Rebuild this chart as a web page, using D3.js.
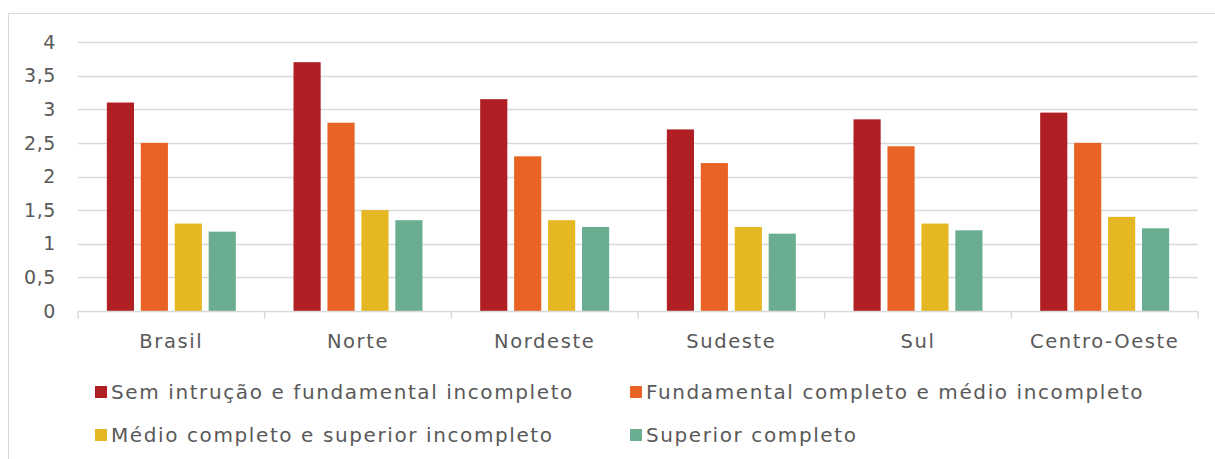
<!DOCTYPE html>
<html>
<head>
<meta charset="utf-8">
<script src="https://cdn.jsdelivr.net/npm/d3@7"></script>
<style>
  body { margin: 0; background: #fff; }
  text { font-family: "Century Gothic", "DejaVu Sans", sans-serif; fill: #595959; }
</style>
</head>
<body>
<div id="chart"></div>
<script>
// Data
const regions = ["Brasil", "Norte", "Nordeste", "Sudeste", "Sul", "Centro-Oeste"];
const seriesNames = [
  "Sem intrução e fundamental incompleto",
  "Fundamental completo e médio incompleto",
  "Médio completo e superior incompleto",
  "Superior completo"
];
const semInstrucao = [3.1, 3.7, 3.15, 2.7, 2.85, 2.95];
const fundamental = [2.5, 2.8, 2.3, 2.2, 2.45, 2.5];
const medio = [1.3, 1.5, 1.35, 1.25, 1.3, 1.4];
const superior = [1.18, 1.35, 1.25, 1.15, 1.2, 1.23];
const yTicks = [0, 0.5, 1, 1.5, 2, 2.5, 3, 3.5, 4];

const colors = ["#b01f24", "#e96424", "#e5b723", "#6aad90"];
const allSeries = [semInstrucao, fundamental, medio, superior];

const width = 1215, height = 459;
const margin = { top: 42, right: 17, bottom: 148, left: 78 };

const svg = d3.select("#chart")
  .append("svg")
  .attr("width", width)
  .attr("height", height);

// outer frame
svg.append("rect")
  .attr("x", 8.5).attr("y", 13.5)
  .attr("width", 1220).attr("height", 460)
  .style("fill", "none")
  .style("stroke", "#d9d9d9")
  .style("stroke-width", 1);

const x0 = d3.scaleBand()
  .domain(regions)
  .range([margin.left, width - margin.right]);

const x1 = d3.scaleBand()
  .domain(d3.range(seriesNames.length))
  .range([0, x0.bandwidth()])
  .paddingInner(0.2)
  .paddingOuter(0.85);

const y = d3.scaleLinear()
  .domain([0, 4])
  .range([height - margin.bottom, margin.top]);

// gridlines
svg.append("g")
  .selectAll("line")
  .data(yTicks.slice(1))
  .enter()
  .append("line")
  .attr("x1", margin.left)
  .attr("x2", width - margin.right)
  .attr("y1", d => Math.round(y(d)) + 0.5)
  .attr("y2", d => Math.round(y(d)) + 0.5)
  .style("stroke", "#d9d9d9")
  .style("stroke-width", 1.5);

// y labels
svg.append("g")
  .selectAll("text")
  .data(yTicks)
  .enter()
  .append("text")
  .attr("x", 56)
  .attr("y", d => y(d))
  .attr("dy", "0.35em")
  .style("text-anchor", "end")
  .style("font-size", "19px")
  .style("letter-spacing", "0.6px")
  .text(d => String(d).replace(".", ","));

// bars
const groups = svg.append("g")
  .selectAll("g")
  .data(regions)
  .enter()
  .append("g")
  .attr("transform", d => `translate(${x0(d)},0)`);

groups.selectAll("rect")
  .data((d, i) => allSeries.map((s, k) => ({ k: k, value: s[i] })))
  .enter()
  .append("rect")
  .attr("x", d => x1(d.k))
  .attr("width", x1.bandwidth())
  .attr("y", d => y(d.value))
  .attr("height", d => y(0) - y(d.value))
  .style("fill", d => colors[d.k]);

// x axis
const xAxis = svg.append("g");
const baseY = Math.round(y(0)) + 0.5;
xAxis.append("line")
  .attr("x1", margin.left).attr("x2", width - margin.right)
  .attr("y1", baseY).attr("y2", baseY)
  .style("stroke", "#d9d9d9").style("stroke-width", 1.5);

xAxis.selectAll(".tick")
  .data(regions.concat([null]))
  .enter()
  .append("line")
  .attr("x1", (d, i) => margin.left + i * x0.step())
  .attr("x2", (d, i) => margin.left + i * x0.step())
  .attr("y1", baseY).attr("y2", baseY + 7)
  .style("stroke", "#d9d9d9").style("stroke-width", 1.5);

xAxis.selectAll("text")
  .data(regions)
  .enter()
  .append("text")
  .attr("x", d => x0(d) + x0.bandwidth() / 2)
  .attr("y", 341)
  .attr("dy", "0.35em")
  .style("text-anchor", "middle")
  .style("font-size", "19.5px")
  .style("letter-spacing", "1.6px")
  .text(d => d);

// legend
const legendPos = [[95, 392], [630, 392], [95, 435], [630, 435]];
const legend = svg.append("g")
  .selectAll("g")
  .data(seriesNames)
  .enter()
  .append("g")
  .attr("transform", (d, i) => `translate(${legendPos[i][0]},${legendPos[i][1]})`);

legend.append("rect")
  .attr("x", 0).attr("y", -6)
  .attr("width", 12).attr("height", 12)
  .style("fill", (d, i) => colors[i]);

legend.append("text")
  .attr("x", 16)
  .attr("y", 0)
  .attr("dy", "0.35em")
  .style("font-size", "20px")
  .style("letter-spacing", "1.6px")
  .text(d => d);
</script>
</body>
</html>
